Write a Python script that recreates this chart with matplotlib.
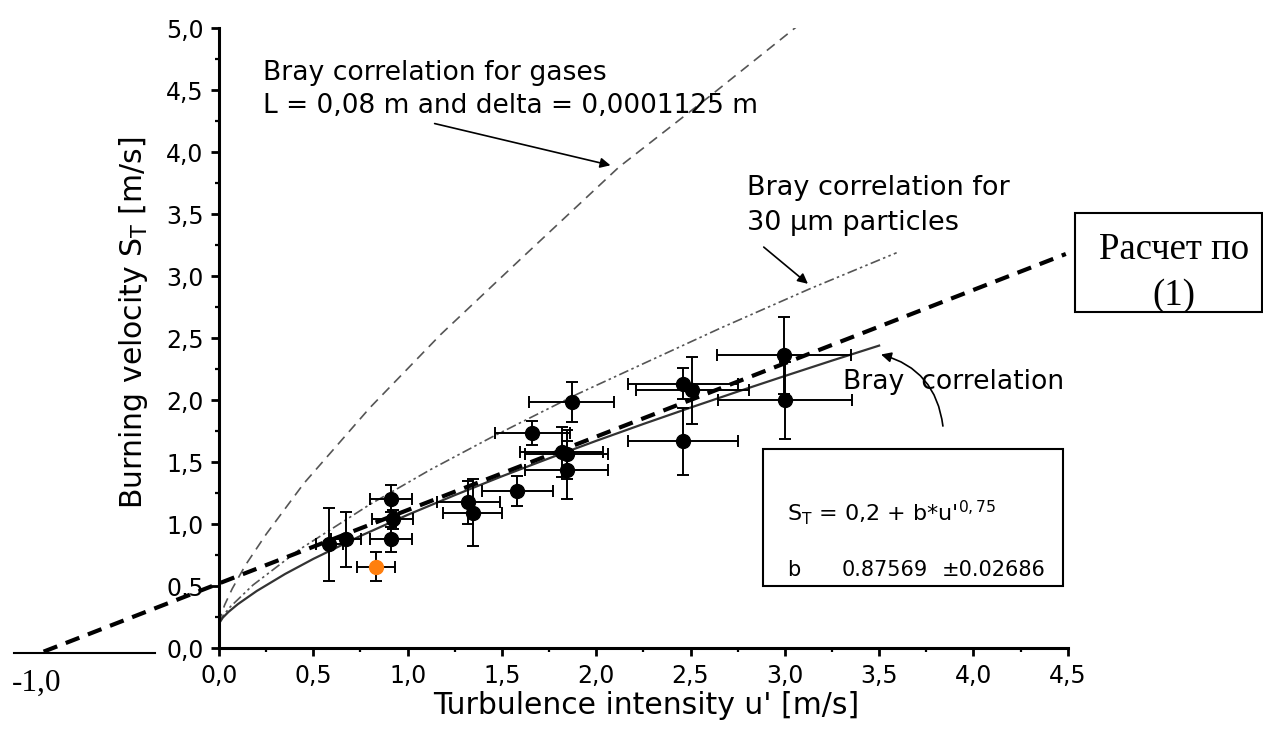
import matplotlib
matplotlib.use("Agg")
import matplotlib.pyplot as plt
from matplotlib.patches import Rectangle, FancyArrowPatch
from matplotlib.ticker import MultipleLocator, FuncFormatter

plt.rcParams['font.family'] = ['DejaVu Sans']
plt.rcParams['mathtext.fontset'] = 'dejavusans'

# measured points: u', S_T and their error bars
pts_x = [0.585, 0.672, 0.910, 0.921, 0.910, 1.322, 1.345, 1.582, 1.661, 1.870,
         1.817, 1.844, 1.844, 2.461, 2.510, 2.461, 2.998, 3.000]
pts_y = [0.840, 0.878, 1.208, 1.039, 0.878, 1.176, 1.095, 1.269, 1.736, 1.985,
         1.583, 1.564, 1.441, 2.135, 2.080, 1.670, 2.363, 2.000]
pts_xerr = [0.07, 0.08, 0.112, 0.11, 0.112, 0.168, 0.156, 0.19, 0.20, 0.225,
            0.22, 0.22, 0.22, 0.29, 0.30, 0.29, 0.355, 0.355]
pts_yerr = [0.294, 0.22, 0.107, 0.08, 0.10, 0.17, 0.27, 0.118, 0.10, 0.16,
            0.20, 0.20, 0.233, 0.125, 0.27, 0.27, 0.31, 0.31]

# the single orange point
orange_x, orange_y = [0.832], [0.657]
orange_xerr, orange_yerr = [0.10], [0.117]

# fitted Bray correlation S_T = 0.2 + b*u'^0.75
fit_x = [0, 0.02, 0.05, 0.1, 0.2, 0.35, 0.5, 0.75, 1.0, 1.25, 1.5, 1.75,
         2.0, 2.25, 2.5, 2.75, 3.0, 3.25, 3.5]
fit_y = [0.200, 0.247, 0.293, 0.356, 0.462, 0.599, 0.721, 0.906, 1.076, 1.235,
         1.387, 1.532, 1.673, 1.809, 1.941, 2.070, 2.196, 2.320, 2.441]

# Bray correlation for gases
gas_x = [0, 0.01, 0.03, 0.07, 0.14, 0.25, 0.45, 0.8, 1.175, 1.6, 2.12, 2.6, 3.085]
gas_y = [0.20, 0.26, 0.35, 0.48, 0.67, 0.92, 1.33, 1.94, 2.53, 3.14, 3.88, 4.45, 5.04]

# Bray correlation for 30 um particles
part_x = [0, 0.02, 0.06, 0.18, 0.43, 0.8, 1.12, 1.455, 1.9, 2.285, 2.656, 3.134, 3.593]
part_y = [0.20, 0.26, 0.335, 0.51, 0.80, 1.16, 1.44, 1.71, 2.05, 2.32, 2.58, 2.90, 3.19]

# hand drawn line "Расчет по (1)"
hand_x = [-0.93, 4.49]
hand_y = [-0.027, 3.18]
base_x = [-1.085, -0.34]
base_y = [-0.035, -0.035]

fig = plt.figure(figsize=(12.63, 7.43), dpi=100)
ax = fig.add_axes([219 / 1263, 1 - 648.3 / 743, (1067.7 - 219) / 1263, 620 / 743])

ax.plot(gas_x, gas_y, color='#555555', lw=1.2, dashes=(6, 4))
ax.plot(part_x, part_y, color='#555555', lw=1.2, dashes=(6, 2, 1.5, 2, 1.5, 2))
ax.plot(fit_x, fit_y, color='#333333', lw=1.6)

ax.errorbar(pts_x, pts_y, xerr=pts_xerr, yerr=pts_yerr, fmt='o', color='black',
            ms=10, elinewidth=1.4, capsize=4.5, capthick=1.4, zorder=4)
ax.errorbar(orange_x, orange_y, xerr=orange_xerr, yerr=orange_yerr, fmt='o',
            color='black', mfc='#ff7f0e', mec='#ff7f0e', ms=10, elinewidth=1.4,
            capsize=4.5, capthick=1.4, zorder=4)

ax.plot(hand_x, hand_y, color='black', lw=3, dashes=(3.5, 2.2), clip_on=False, zorder=5)
ax.plot(base_x, base_y, color='black', lw=1.5, clip_on=False)

ax.set_xlim(0, 4.5)
ax.set_ylim(0, 5)
for s in ['top', 'right']:
    ax.spines[s].set_visible(False)
for s in ['left', 'bottom']:
    ax.spines[s].set_linewidth(2.2)
ax.xaxis.set_major_locator(MultipleLocator(0.5))
ax.xaxis.set_minor_locator(MultipleLocator(0.25))
ax.yaxis.set_major_locator(MultipleLocator(0.5))
ax.yaxis.set_minor_locator(MultipleLocator(0.25))
comma = FuncFormatter(lambda v, p: f'{v:.1f}'.replace('.', ','))
ax.xaxis.set_major_formatter(comma)
ax.yaxis.set_major_formatter(comma)
ax.tick_params(which='major', direction='out', length=6, width=2, labelsize=17, pad=5)
ax.tick_params(which='minor', direction='out', length=3, width=1.6)

ax.set_xlabel("Turbulence intensity u' [m/s]", fontsize=21.5, va='center')
ax.set_ylabel(r"Burning velocity S$_\mathrm{T}$ [m/s]", fontsize=21.5, va='center')
ax.xaxis.set_label_coords(0.504, -0.0915)
ax.yaxis.set_label_coords(-0.101, 0.525)

ax.text(0.233, 4.64, 'Bray correlation for gases', fontsize=19.2, va='center')
ax.text(0.233, 4.37, 'L = 0,08 m and delta = 0,0001125 m', fontsize=19, va='center')
ax.annotate('', xy=(2.09, 3.89), xytext=(1.129, 4.237),
            arrowprops=dict(arrowstyle='-|>', color='black', lw=1.2, mutation_scale=15))

ax.text(2.80, 3.71, 'Bray correlation for', fontsize=19.5, va='center')
ax.text(2.80, 3.43, '30 \u00b5m particles', fontsize=19.5, va='center')
ax.annotate('', xy=(3.134, 2.925), xytext=(2.877, 3.25),
            arrowprops=dict(arrowstyle='-|>', color='black', lw=1.2, mutation_scale=15))

ax.text(3.31, 2.15, 'Bray  correlation', fontsize=19.2, va='center')
arc = FancyArrowPatch((3.84, 1.77), (3.496, 2.375), arrowstyle='-|>',
                      connectionstyle='arc3,rad=0.35', color='black', lw=1.2,
                      mutation_scale=15)
ax.add_patch(arc)

ax.add_patch(Rectangle((2.886, 0.502), 1.591, 1.108, fill=False, ec='black',
                       lw=1.5, clip_on=False))
ax.text(3.01, 1.03, r"S$_\mathrm{T}$ = 0,2 + b*u'$^{0,75}$", fontsize=16)
ax.text(3.01, 0.585, 'b', fontsize=15)
ax.text(3.30, 0.585, '0.87569', fontsize=15)
ax.text(3.83, 0.585, '\u00b10.02686', fontsize=15)

ax.text(-0.965, -0.28, '-1,0', fontsize=22.5, family='Liberation Serif',
        ha='center', va='center', clip_on=False)

fig.patches.append(Rectangle((1075 / 1263, 1 - 312 / 743), 187 / 1263, 99 / 743,
                             transform=fig.transFigure, fill=True, fc='white',
                             ec='black', lw=1.5, zorder=6))
fig.text(1174 / 1263, 1 - 250 / 743, 'Расчет по', fontsize=26.5,
         family='Liberation Serif', ha='center', va='center', zorder=7)
fig.text(1174 / 1263, 1 - 296 / 743, '(1)', fontsize=26.5,
         family='Liberation Serif', ha='center', va='center', zorder=7)

fig.savefig('out.png', dpi=100)
